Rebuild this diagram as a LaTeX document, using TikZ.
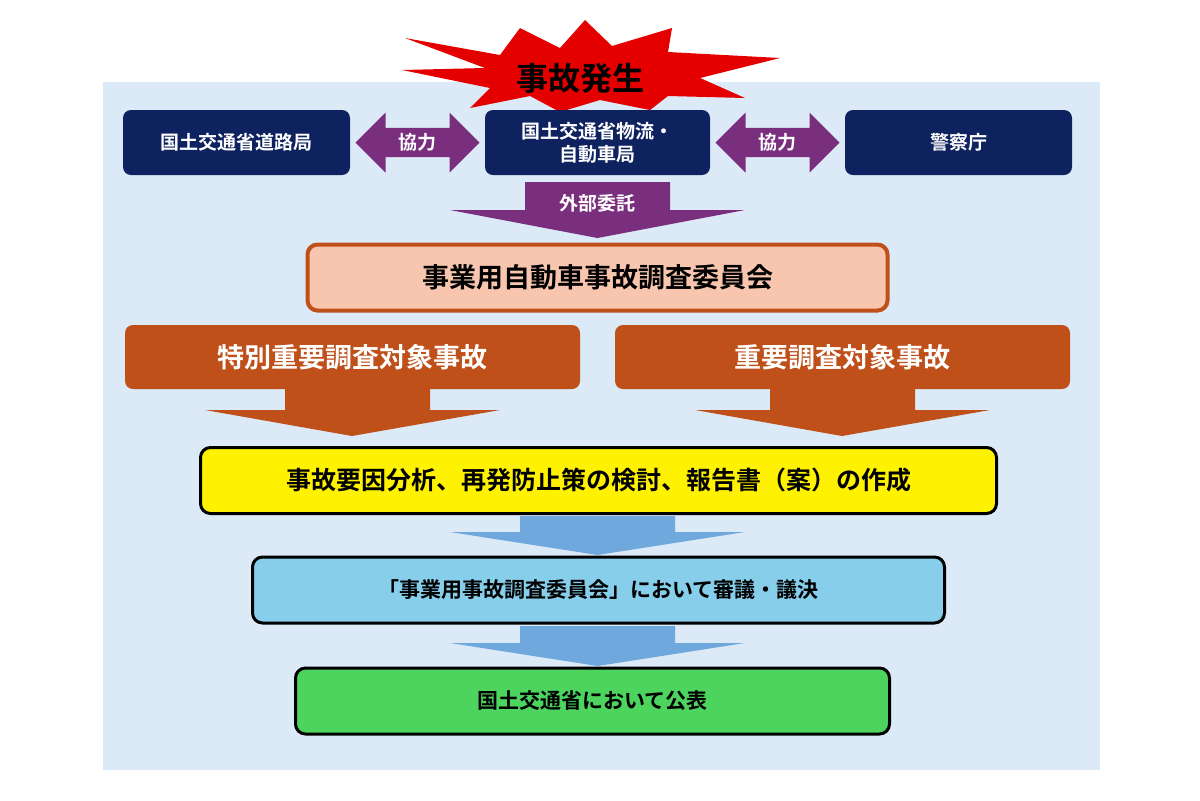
\documentclass[tikz,border=0pt]{standalone}
\usepackage{fontspec}
\setmainfont{Noto Sans CJK JP}[BoldFont={Noto Sans CJK JP Bold}]
\usetikzlibrary{shapes.arrows}
\definecolor{bgblue}{HTML}{DCE9F7}
\definecolor{navy}{HTML}{0E2260}
\definecolor{purp}{HTML}{7A2E7E}
\definecolor{rust}{HTML}{C0501A}
\definecolor{peach}{HTML}{F8C6AE}
\definecolor{skyb}{HTML}{87CEEB}
\definecolor{arrowb}{HTML}{6FA8DC}
\definecolor{greenb}{HTML}{4CD45E}
\tikzset{
  navybox/.style={fill=navy, rounded corners=4pt, text=white, font=\fontsize{9.5}{11.5}\selectfont\bfseries, align=center, minimum height=32.5pt},
  flowbox/.style={draw=black, line width=1.5pt, rounded corners=5pt, font=\fontsize{12.5}{14}\selectfont\bfseries, minimum height=33pt},
  coop/.style={double arrow, fill=purp, text=white, font=\fontsize{9.5}{11}\selectfont\bfseries, minimum height=62pt, minimum width=30pt, double arrow head extend=6pt, inner sep=1pt},
}
\begin{document}
\begin{tikzpicture}[x=0.5pt, y=-0.5pt]
\useasboundingbox (0,0) rectangle (1200,800);
\fill[bgblue] (103,82) rectangle (1100,770);
% starburst
\fill[red!90!black] (405,38) -- (500,55) -- (520,28) -- (560,48) -- (585,20) -- (612,46) -- (672,28) -- (668,52) -- (780,58) -- (700,78) -- (745,98) -- (668,96) -- (650,110) -- (600,100) -- (560,112) -- (530,96) -- (470,108) -- (490,88) -- (402,70) -- (485,68) -- cycle;
\node (accident) at (580,78) {\fontsize{16}{18}\selectfont\bfseries 事故発生};
% top row
\node[navybox, minimum width=113.5pt] (road) at (236.5,142.5) {国土交通省道路局};
\node[navybox, minimum width=112.5pt] (mlit) at (597.5,142.5) {国土交通省物流・\\自動車局};
\node[navybox, minimum width=113.5pt] (police) at (958.5,142.5) {警察庁};
\node[coop] (coopL) at (417.5,142.5) {協力};
\node[coop] (coopR) at (777.5,142.5) {協力};
% outsourcing arrow
\fill[purp] (525,182) -- (670,182) -- (670,210) -- (745,210) -- (597.5,238) -- (450,210) -- (525,210) -- cycle;
\node[text=white, font=\fontsize{9.5}{11}\selectfont\bfseries] (outsrc) at (597.5,203) {外部委託};
% committee
\node[flowbox, draw=rust, line width=2pt, fill=peach, minimum width=290pt, font=\fontsize{13.5}{15}\selectfont\bfseries] (cmte) at (597.5,277.5) {事業用自動車事故調査委員会};
% orange arrows
\fill[rust, rounded corners=4pt] (125,325) rectangle (580,389);
\fill[rust] (285,388) -- (430,388) -- (430,410) -- (500,410) -- (352,436) -- (205,410) -- (285,410) -- cycle;
\fill[rust, rounded corners=4pt] (615,325) rectangle (1070,389);
\fill[rust] (770,388) -- (915,388) -- (915,410) -- (990,410) -- (842,436) -- (695,410) -- (770,410) -- cycle;
\node[text=white, font=\fontsize{13.5}{15}\selectfont\bfseries] (special) at (352,357) {特別重要調査対象事故};
\node[text=white, font=\fontsize{13.5}{15}\selectfont\bfseries] (major) at (842,357) {重要調査対象事故};
% flow
\node[flowbox, fill=yellow, minimum width=398pt] (analysis) at (598.5,480.5) {事故要因分析、再発防止策の検討、報告書（案）の作成};
\fill[arrowb] (520,516) -- (675,516) -- (675,532) -- (745,532) -- (597.5,555) -- (450,532) -- (520,532) -- cycle;
\node[flowbox, fill=skyb, minimum width=346pt, font=\fontsize{10.5}{12}\selectfont\bfseries] (review) at (598.5,590) {「事業用事故調査委員会」において審議・議決};
\fill[arrowb] (520,626) -- (675,626) -- (675,643) -- (745,643) -- (597.5,666) -- (450,643) -- (520,643) -- cycle;
\node[flowbox, fill=greenb, minimum width=297pt, font=\fontsize{10.5}{12}\selectfont\bfseries] (publish) at (592.5,701) {国土交通省において公表};
\end{tikzpicture}
\end{document}
